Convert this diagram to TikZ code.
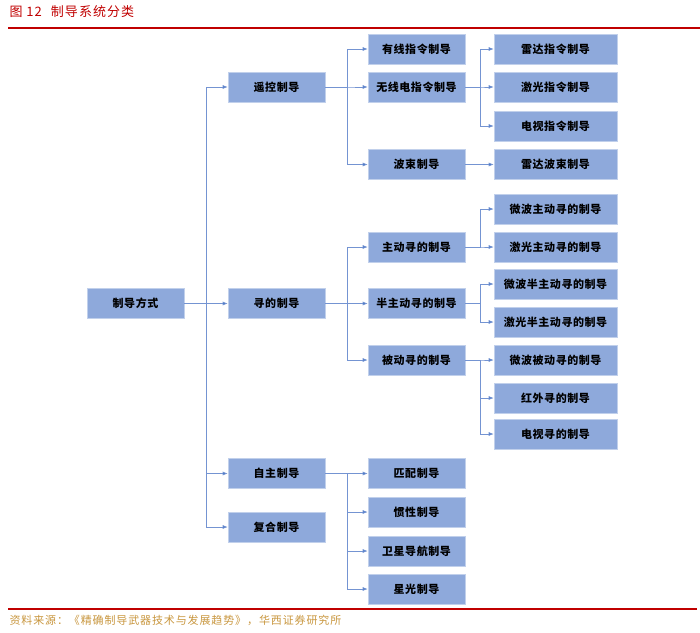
\documentclass[tikz,border=0pt]{standalone}
\usepackage{fontspec}
\usepackage{xcolor}
\usepackage{tikz}
\usetikzlibrary{arrows.meta}
\newfontfamily\cjk{Noto Sans CJK SC}[LetterSpace=8]
\newfontfamily\cjkbox{Noto Sans CJK SC Black}[LetterSpace=5]
\definecolor{boxblue}{HTML}{8EA9DB}
\definecolor{linkblue}{HTML}{7494D2}
\definecolor{tipblue}{HTML}{4472C4}
\definecolor{titlered}{HTML}{C00000}
\definecolor{srcgold}{HTML}{C8963E}

\begin{document}
\begin{tikzpicture}[x=1pt, y=-1pt,
  box/.style={fill=boxblue, draw=boxblue!55!white, line width=0.6pt, minimum width=97pt, minimum height=30pt, inner sep=0pt, font=\cjkbox\fontsize{11}{12}\selectfont},
  wide/.style={box, minimum width=123pt},
  link/.style={draw=linkblue, line width=0.6pt, -{Latex[length=5pt,width=4pt,fill=tipblue]}}]
\useasboundingbox (0,0) rectangle (700,632);
% title and rules
\node[anchor=west, text=titlered, font=\cjk\fontsize{13}{14}\selectfont] (title) at (6,12) {图 12\hspace{9pt}制导系统分类};
\draw[titlered, line width=2pt] (8,28) -- (700,28);
\draw[titlered, line width=2pt] (8,609) -- (697,609);
\node[anchor=west, text=srcgold, font=\cjk\fontsize{11}{12}\selectfont] (source) at (6,620) {资料来源：《精确制导武器技术与发展趋势》，华西证券研究所};

% root and first level
\node[box] (root) at (135.5,303.5) {制导方式};
\node[box] (remote) at (276.5,87) {遥控制导};
\node[box] (homing) at (276.5,303.5) {寻的制导};
\node[box] (auton) at (276.5,473.5) {自主制导};
\node[box] (compound) at (276.5,527) {复合制导};

% second level
\node[box] (wired) at (416.5,49) {有线指令制导};
\node[box] (radio) at (416.5,87) {无线电指令制导};
\node[box] (beam) at (416.5,164.5) {波束制导};
\node[box] (active) at (416.5,247) {主动寻的制导};
\node[box] (semiact) at (416.5,303.5) {半主动寻的制导};
\node[box] (passive) at (416.5,360) {被动寻的制导};
\node[box] (match) at (416.5,473.5) {匹配制导};
\node[box] (inertial) at (416.5,512) {惯性制导};
\node[box] (satnav) at (416.5,551) {卫星导航制导};
\node[box] (stellar) at (416.5,589) {星光制导};

% third level
\node[wide] (radarcmd) at (555.5,49) {雷达指令制导};
\node[wide] (lasercmd) at (555.5,87) {激光指令制导};
\node[wide] (tvcmd) at (555.5,126) {电视指令制导};
\node[wide] (radarbeam) at (555.5,164.5) {雷达波束制导};
\node[wide] (mwact) at (555.5,209) {微波主动寻的制导};
\node[wide] (lzact) at (555.5,247) {激光主动寻的制导};
\node[wide] (mwsemi) at (555.5,284) {微波半主动寻的制导};
\node[wide] (lzsemi) at (555.5,322) {激光半主动寻的制导};
\node[wide] (mwpass) at (555.5,360) {微波被动寻的制导};
\node[wide] (irhome) at (555.5,398) {红外寻的制导};
\node[wide] (tvhome) at (555.5,434) {电视寻的制导};

% connectors
\foreach \a/\b in {root/remote, root/homing, root/auton, root/compound,
    remote/wired, remote/radio, remote/beam,
    homing/active, homing/semiact, homing/passive,
    auton/match, auton/inertial, auton/satnav, auton/stellar}
  \draw[link] (\a.east) -- ++(22,0) |- (\b.west);
\foreach \a/\b in {radio/radarcmd, radio/lasercmd, radio/tvcmd, beam/radarbeam,
    active/mwact, active/lzact, semiact/mwsemi, semiact/lzsemi,
    passive/mwpass, passive/irhome, passive/tvhome}
  \draw[link] (\a.east) -- ++(15,0) |- (\b.west);
\end{tikzpicture}
\end{document}
